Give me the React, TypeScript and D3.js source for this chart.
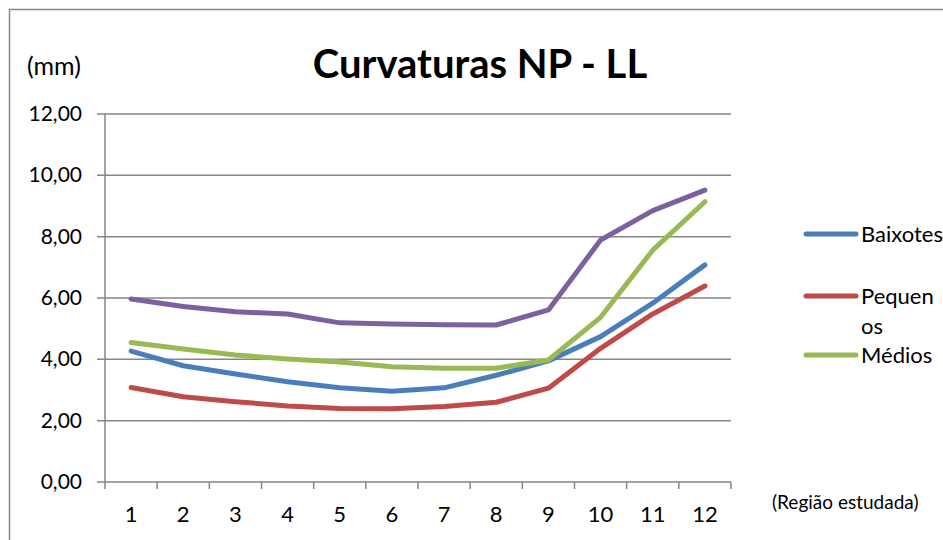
import * as React from 'react';
import * as d3 from 'd3';

const regions = ['1', '2', '3', '4', '5', '6', '7', '8', '9', '10', '11', '12'];
const baixotes = [4.27, 3.79, 3.52, 3.27, 3.07, 2.96, 3.07, 3.48, 3.95, 4.74, 5.83, 7.08];
const pequenos = [3.08, 2.78, 2.62, 2.48, 2.4, 2.39, 2.46, 2.6, 3.06, 4.36, 5.48, 6.39];
const medios = [4.55, 4.34, 4.14, 4.01, 3.91, 3.76, 3.71, 3.71, 3.98, 5.37, 7.56, 9.14];
const altos = [5.97, 5.72, 5.55, 5.48, 5.19, 5.15, 5.13, 5.12, 5.61, 7.89, 8.85, 9.52];
const yTicks = [0, 2, 4, 6, 8, 10, 12];

const series = [
  { name: 'Baixotes', values: baixotes, color: '#4A7EBB', legend: ['Baixotes'] },
  { name: 'Pequenos', values: pequenos, color: '#BE4B48', legend: ['Pequen', 'os'] },
  { name: 'Médios', values: medios, color: '#98B954', legend: ['Médios'] },
  { name: 'Altos', values: altos, color: '#7D60A0', legend: null },
];

const font = "Lato, 'Open Sans', sans-serif";

const App = () => {
  const width = 943;
  const height = 540;
  const left = 105;
  const right = 731;
  const top = 114;
  const bottom = 482;

  const x = d3.scaleBand().domain(regions).range([left, right]);
  const y = d3.scaleLinear().domain([0, 12]).range([bottom, top]);
  const fmt = (v) => d3.format('.2f')(v).replace('.', ',');

  const line = d3
    .line()
    .x((d, i) => x(regions[i]) + x.bandwidth() / 2)
    .y((d) => y(d));

  const legendY = [234, 296, 355];

  return (
    <svg
      width={width}
      height={height}
      style={{ position: 'absolute', left: 0, top: 0, background: '#fff' }}>
      <rect x={9.5} y={9.5} width={1000} height={600} fill='white' stroke='#888' strokeWidth={1.5} />
      <text x={480} y={78} textAnchor='middle' fontFamily={font} fontWeight='bold' fontSize={40}>
        Curvaturas NP - LL
      </text>
      <text x={27} y={75} fontFamily={font} fontSize={25}>
        (mm)
      </text>
      {yTicks.map((t) => (
        <g key={t}>
          <line x1={97} x2={right} y1={y(t)} y2={y(t)} stroke='#868686' strokeWidth={1.5} />
          <text x={82} y={y(t) + 7} textAnchor='end' fontFamily={font} fontSize={21}>
            {fmt(t)}
          </text>
        </g>
      ))}
      <line x1={left} x2={left} y1={top} y2={bottom} stroke='#868686' strokeWidth={1.5} />
      {regions.concat(['end']).map((r, i) => {
        const xp = left + i * x.step();
        return <line key={r} x1={xp} x2={xp} y1={bottom} y2={bottom + 7} stroke='#868686' strokeWidth={1.5} />;
      })}
      {regions.map((r) => (
        <text
          key={r}
          x={x(r) + x.bandwidth() / 2}
          y={522}
          textAnchor='middle'
          fontFamily={font}
          fontSize={22}>
          {r}
        </text>
      ))}
      <text x={772} y={509} fontFamily={font} fontSize={19}>
        (Região estudada)
      </text>
      {series.map((s) => (
        <path
          key={s.name}
          d={line(s.values)}
          fill='none'
          stroke={s.color}
          strokeWidth={5}
          strokeLinejoin='round'
          strokeLinecap='round'
        />
      ))}
      {series
        .filter((s) => s.legend)
        .map((s, i) => (
          <g key={s.name}>
            <line
              x1={806}
              x2={856}
              y1={legendY[i]}
              y2={legendY[i]}
              stroke={s.color}
              strokeWidth={5}
              strokeLinecap='round'
            />
            {s.legend.map((t, j) => (
              <text key={t} x={861} y={legendY[i] + 8 + j * 30} fontFamily={font} fontSize={22}>
                {t}
              </text>
            ))}
          </g>
        ))}
    </svg>
  );
};

export default App;
